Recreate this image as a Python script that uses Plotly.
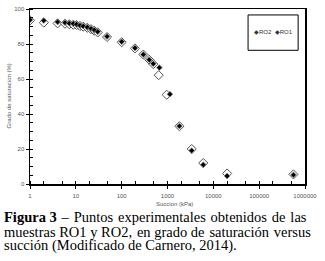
import plotly.graph_objects as go

# Data
ro1_x = [1, 2, 4, 5.8, 7.2, 8.8, 10.4, 12.3, 14.5, 17.8, 21.4, 25.3, 30, 48, 100, 195, 297, 400, 490, 665, 1130, 1820, 3380, 6030, 20000, 560000]
ro1_y = [93.8, 93.4, 92.6, 92.2, 91.8, 91.6, 91.2, 90.6, 90.2, 89.6, 88.8, 88.0, 87.0, 84.3, 81.3, 77.7, 74.0, 71.0, 68.7, 66.5, 51.3, 33.1, 19.1, 11.0, 4.6, 5.2]
ro2_x = [1, 2, 4, 5.8, 7.2, 8.8, 10.4, 12.3, 14.5, 17.8, 21.4, 25.3, 30, 48, 100, 195, 297, 400, 490, 643, 960, 1820, 3380, 6030, 20000, 560000]
ro2_y = [93.5, 92.2, 91.8, 91.6, 91.3, 91.0, 90.8, 90.3, 89.9, 89.3, 88.5, 87.6, 86.6, 84.0, 81.0, 77.5, 74.0, 71.0, 68.5, 62.2, 51.0, 33.0, 20.0, 12.0, 6.0, 5.5]

x_tickvals = [1, 10, 100, 1000, 10000, 100000, 1000000]
x_ticktext = ["1", "10", "100", "1000", "10000", "100000", "1000000"]
y_tickvals = [0, 20, 40, 60, 80, 100]

H = "\u200a"  # hair space, used to justify caption lines
caption_lines = [
    "<b>Figura 3</b> " + H + "– " + H + "Puntos " + H + "experimentales " + H + "obtenidos " + H + "de " + H + "las",
    "muestras RO1 y RO2, " + H + "en grado de " + H + "saturación " + H + "versus",
    "succión (Modificado de Carnero, 2014).",
]

fig = go.Figure()
fig.add_trace(go.Scatter(
    x=ro2_x, y=ro2_y, mode="markers", name="RO2",
    marker=dict(symbol="diamond", size=7, color="white",
                line=dict(color="#555555", width=1)),
))
fig.add_trace(go.Scatter(
    x=ro1_x, y=ro1_y, mode="markers", name="RO1",
    marker=dict(symbol="diamond", size=4.5, color="black",
                line=dict(color="#999999", width=0.8)),
))

axis_common = dict(
    showgrid=False, zeroline=False, showline=True, linecolor="black",
    linewidth=1.5, mirror=True, ticks="outside", ticklen=3, tickwidth=1,
    tickcolor="black", tickfont=dict(family="Liberation Sans", size=6, color="#555555"),
)

fig.update_xaxes(type="log", range=[0, 6], tickvals=x_tickvals, ticktext=x_ticktext,
                 minor=dict(ticks="inside", ticklen=3, tickcolor="black", tickwidth=1),
                 ticklabelstandoff=2, **axis_common)
fig.update_yaxes(range=[0, 100], tickvals=y_tickvals,
                 minor=dict(ticks="inside", ticklen=3, dtick=5, tickcolor="black", tickwidth=1),
                 **axis_common)

annotations = [
    dict(text="Succion (kPa)", x=0.527, y=-0.112, xref="paper", yref="paper",
         showarrow=False, font=dict(family="Liberation Sans", size=6, color="#555555"),
         xanchor="center", yanchor="middle"),
    dict(text="Grado de saturacion (%)", x=-0.08, y=0.5, xref="paper", yref="paper",
         showarrow=False, textangle=-90, font=dict(family="Liberation Sans", size=6, color="#555555"),
         xanchor="center", yanchor="middle"),
    dict(text="◆RO2  ◆RO1", x=0.884, y=0.871, xref="paper", yref="paper",
         showarrow=False, font=dict(family="Liberation Sans", size=6, color="#333333"),
         xanchor="center", yanchor="middle"),
]
cap_y = [-0.191, -0.273, -0.354]
for line, yy in zip(caption_lines, cap_y):
    annotations.append(dict(text=line, x=-0.102, y=yy, xref="paper", yref="paper",
                            showarrow=False, xanchor="left", yanchor="middle",
                            font=dict(family="Liberation Serif", size=14.5, color="black")))

fig.update_layout(
    width=325, height=261,
    margin=dict(l=30, r=20, t=6, b=77),
    paper_bgcolor="white", plot_bgcolor="white",
    showlegend=False,
    hovermode=False,
    annotations=annotations,
    shapes=[dict(type="rect", xref="paper", yref="paper", x0=0.793, x1=0.975,
                 y0=0.764, y1=0.966, line=dict(color="black", width=1))],
)

fig.write_html("out.html", config={"displayModeBar": False, "staticPlot": True},
               post_script="document.body.style.margin='0';document.body.style.overflow='hidden';")
